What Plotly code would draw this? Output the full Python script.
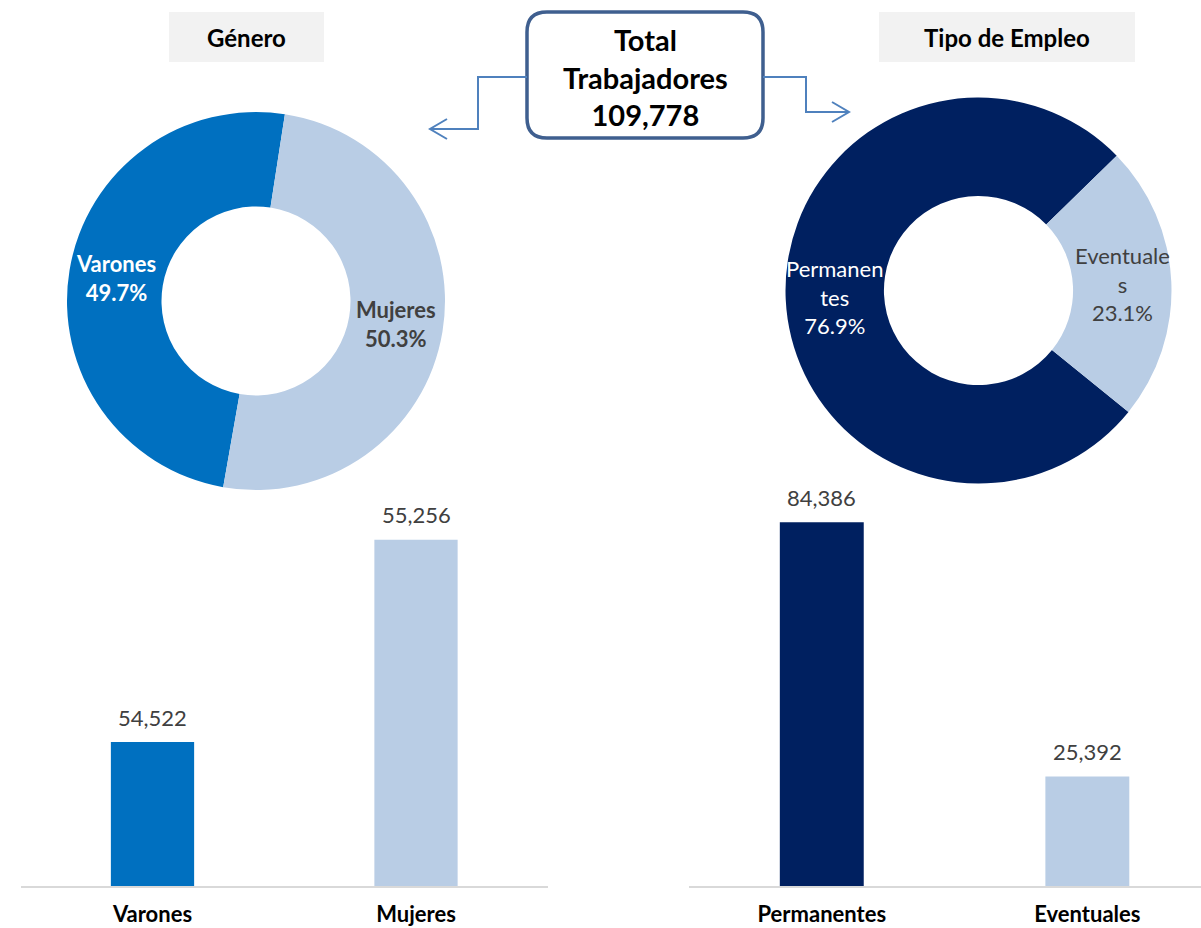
import math
import plotly.graph_objects as go

# ---------------- data ----------------
genero_cat = ["Varones", "Mujeres"]
genero_val = [54522, 55256]
genero_colors = ["#0070C0", "#B9CDE5"]
genero_pie_text = ["Varones", "Mujeres"]
genero_pie_font = ["#FFFFFF", "#404040"]

tipo_cat = ["Permanentes", "Eventuales"]
tipo_val = [84386, 25392]
tipo_colors = ["#002060", "#B9CDE5"]
tipo_pie_text = ["Permanen<br>tes", "Eventuale<br>s"]
tipo_pie_font = ["#FFFFFF", "#404040"]

header_left = "Género"
header_right = "Tipo de Empleo"
total_title = "Total<br>Trabajadores"
total = sum(genero_val)

# ---------------- layout helpers ----------------
W, H = 1201, 928
FONT = "Lato"


def px(x):
    return x / W


def py(y):
    return 1 - y / H


fig = go.Figure()

# ---------------- donuts ----------------
pies = [
    dict(cat=genero_cat, val=genero_val, colors=genero_colors, text=genero_pie_text,
         tcol=genero_pie_font, bold=True, cx=256, cy=301, r=189, hole=0.5, rot=-170),
    dict(cat=tipo_cat, val=tipo_val, colors=tipo_colors, text=tipo_pie_text,
         tcol=tipo_pie_font, bold=False, cx=978.5, cy=290.5, r=193, hole=0.49, rot=129),
]
annotations = []
for p in pies:
    fig.add_trace(go.Pie(
        labels=p["cat"], values=p["val"], hole=p["hole"], sort=False,
        direction="clockwise", rotation=p["rot"],
        marker=dict(colors=p["colors"], line=dict(width=0)),
        textinfo="none", hoverinfo="label+value+percent", showlegend=False,
        automargin=False,
        domain=dict(x=[px(p["cx"] - p["r"]), px(p["cx"] + p["r"])],
                    y=[py(p["cy"] + p["r"]), py(p["cy"] - p["r"])]),
    ))
    tot = sum(p["val"])
    cum = 0
    rmid = p["r"] * (1 + p["hole"]) / 2
    for lab, v, col in zip(p["text"], p["val"], p["tcol"]):
        mid = math.radians(p["rot"] + (cum + v / 2) / tot * 360)
        cum += v
        lx = p["cx"] + rmid * math.sin(mid)
        ly = p["cy"] - rmid * math.cos(mid)
        pct = f"{v / tot * 100:.1f}%"
        txt = f"{lab}<br>{pct}"
        if p["bold"]:
            txt = f"<b>{lab}<br>{pct}</b>"
        annotations.append(dict(
            x=px(lx), y=py(ly), xref="paper", yref="paper", text=txt,
            showarrow=False, xanchor="center", yanchor="middle",
            font=dict(family=FONT, size=22, color=col)))

# ---------------- bars ----------------
fig.add_trace(go.Bar(x=genero_cat, y=genero_val, marker=dict(color=genero_colors, line=dict(width=0)),
                     xaxis="x", yaxis="y", showlegend=False, hoverinfo="x+y"))
fig.add_trace(go.Bar(x=tipo_cat, y=tipo_val, marker=dict(color=tipo_colors, line=dict(width=0)),
                     xaxis="x2", yaxis="y2", showlegend=False, hoverinfo="x+y"))

for cats, vals, xr, yr in [(genero_cat, genero_val, "x", "y"), (tipo_cat, tipo_val, "x2", "y2")]:
    for c, v in zip(cats, vals):
        annotations.append(dict(
            x=c, y=v, xref=xr, yref=yr, text=f"{v:,}", showarrow=False,
            xanchor="center", yanchor="middle", yshift=25,
            font=dict(family=FONT, size=22, color="#404040")))

# ---------------- headers and title ----------------
shapes = []
for (x0, x1, label) in [(169, 324, header_left), (879, 1135, header_right)]:
    shapes.append(dict(type="rect", xref="paper", yref="paper",
                       x0=px(x0), x1=px(x1), y0=py(62), y1=py(12),
                       fillcolor="#F2F2F2", line=dict(width=0), layer="below"))
    annotations.append(dict(x=px((x0 + x1) / 2), y=py(38), xref="paper", yref="paper",
                            text=f"<b>{label}</b>", showarrow=False,
                            xanchor="center", yanchor="middle",
                            font=dict(family=FONT, size=24, color="#000000")))

# rounded title box
bx0, bx1, by0, by1, rr = 527, 763, 12, 138, 20


def P(x, y):
    return f"{px(x):.5f},{py(y):.5f}"


box_path = (f"M {P(bx0 + rr, by0)} L {P(bx1 - rr, by0)} Q {P(bx1, by0)} {P(bx1, by0 + rr)} "
            f"L {P(bx1, by1 - rr)} Q {P(bx1, by1)} {P(bx1 - rr, by1)} "
            f"L {P(bx0 + rr, by1)} Q {P(bx0, by1)} {P(bx0, by1 - rr)} "
            f"L {P(bx0, by0 + rr)} Q {P(bx0, by0)} {P(bx0 + rr, by0)} Z")
shapes.append(dict(type="path", xref="paper", yref="paper", path=box_path,
                   fillcolor="#FFFFFF", line=dict(color="#3F5F8F", width=3.5)))
annotations.append(dict(x=px((bx0 + bx1) / 2), y=py(77), xref="paper", yref="paper",
                        text=f"<b>{total_title}<br>{total:,}</b>", showarrow=False,
                        xanchor="center", yanchor="middle",
                        font=dict(family=FONT, size=29, color="#000000")))

# connector arrows
arrow_col = "#4F81BD"
left_arrow = f"M {P(bx0, 77)} L {P(478, 77)} L {P(478, 129)} L {P(430, 129)}"
left_head = f"M {P(447, 119)} L {P(430, 129)} L {P(447, 139)}"
right_arrow = f"M {P(bx1, 77)} L {P(806, 77)} L {P(806, 112)} L {P(848, 112)}"
right_head = f"M {P(832, 102)} L {P(849, 112)} L {P(832, 122)}"
for pth in [left_arrow, left_head, right_arrow, right_head]:
    shapes.append(dict(type="path", xref="paper", yref="paper", path=pth,
                       line=dict(color=arrow_col, width=2)))

# ---------------- axes ----------------
ydom = [py(886), py(500)]
xaxis_common = dict(type="category", showline=True, linecolor="#D9D9D9", linewidth=2,
                    ticks="", showgrid=False, zeroline=False, ticklabelstandoff=8,
                    automargin=False,
                    tickfont=dict(family=FONT, size=22, color="#000000", weight="bold"),
                    fixedrange=True)
yaxis_common = dict(visible=False, showgrid=False, zeroline=False, fixedrange=True,
                    automargin=False)

fig.update_layout(
    width=W, height=H,
    margin=dict(l=0, r=0, t=0, b=0, autoexpand=False),
    paper_bgcolor="#FFFFFF", plot_bgcolor="#FFFFFF",
    bargap=0.684,
    xaxis=dict(domain=[px(20.75), px(547.75)], range=[-0.5, 1.5], anchor="y", **xaxis_common),
    yaxis=dict(domain=ydom, range=[54000, 55400], anchor="x", **yaxis_common),
    xaxis2=dict(domain=[px(689), 1.0], range=[-0.5, 1.428], anchor="y2", **xaxis_common),
    yaxis2=dict(domain=ydom, range=[0, 89540], anchor="x2", **yaxis_common),
    shapes=shapes,
    annotations=annotations,
    font=dict(family=FONT),
    showlegend=False,
)

fig.write_html("out.html", config={"displayModeBar": False},
               post_script="document.body.style.margin='0';document.body.style.overflow='hidden';")
